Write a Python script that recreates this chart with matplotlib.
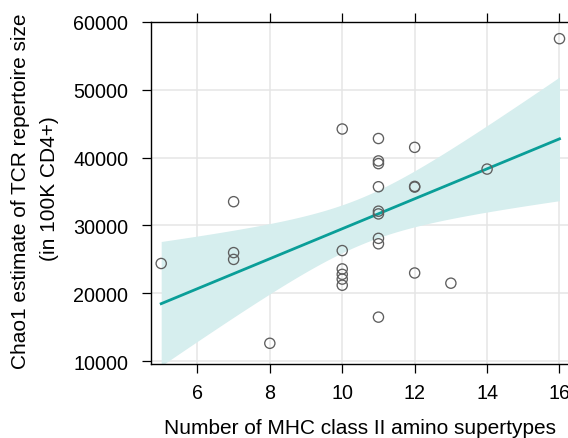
import numpy as np
import matplotlib
matplotlib.use("Agg")
import matplotlib.pyplot as plt

plt.rcParams['font.family'] = ['Liberation Sans', 'DejaVu Sans']

mhc_supertypes = [5, 7, 7, 7, 8,
                  10, 10, 10, 10, 10, 10,
                  11, 11, 11, 11, 11, 11, 11, 11, 11,
                  12, 12, 12, 12, 13, 14, 16]
chao1 = [24400, 33500, 26000, 25000, 12650,
         44200, 26300, 23600, 22800, 22100, 21200,
         42800, 39500, 39100, 35700, 32100, 31700, 28100, 27300, 16500,
         41500, 35750, 35650, 23000, 21500, 38300, 57500]
x_ticks = [6, 8, 10, 12, 14, 16]
y_ticks = [10000, 20000, 30000, 40000, 50000, 60000]

x = np.array(mhc_supertypes, float)
y = np.array(chao1, float)
n = len(x)
b1, b0 = np.polyfit(x, y, 1)
xs = np.linspace(x.min(), x.max(), 200)
yhat = b0 + b1 * xs
resid = y - (b0 + b1 * x)
s = np.sqrt(np.sum(resid ** 2) / (n - 2))
sxx = np.sum((x - x.mean()) ** 2)
t = 2.0595  # t(0.975, 25)
se = s * np.sqrt(1.0 / n + (xs - x.mean()) ** 2 / sxx)

W, H = 568, 439
fig = plt.figure(figsize=(W / 100, H / 100), dpi=100)
ax = fig.add_axes([150.7 / W, 1 - 365 / H, (570 - 150.7) / W, (365 - 22.7) / H])

teal = '#0a9e98'
ax.fill_between(xs, yhat - t * se, yhat + t * se, color='#d6eeee', lw=0, zorder=1)
ax.plot(xs, yhat, color=teal, lw=2.0, zorder=3)
ax.scatter(x, y, s=54, facecolors='none', edgecolors='#5e5e5e', linewidths=0.95, zorder=4)

ax.set_xlim(4.71, 16.29)
ax.set_ylim(9600, 60000)
ax.set_xticks(x_ticks)
ax.set_yticks(y_ticks)
ax.grid(True, color='#e5e5e5', lw=1.1, zorder=0)
ax.set_axisbelow(True)

for sp in ['left', 'bottom', 'top']:
    ax.spines[sp].set_linewidth(1.0)
    ax.spines[sp].set_color('black')
ax.spines['right'].set_visible(False)
ax.tick_params(axis='both', direction='out', length=6.5, width=0.9, labelsize=14.2, colors='black')
ax.tick_params(axis='y', pad=9.6)
ax.tick_params(axis='x', pad=7.0, top=True, labeltop=False)

fig.text(360 / W, 1 - 434 / H, 'Number of MHC class II amino supertypes',
         fontsize=15, ha='center', va='baseline')
fig.text(20.8 / W, 1 - 191 / H, 'Chao1 estimate of TCR repertoire size',
         fontsize=15, rotation=90, ha='center', va='center')
fig.text(49.8 / W, 1 - 189 / H, '(in 100K CD4+)',
         fontsize=15, rotation=90, ha='center', va='center')

fig.savefig('out.png', dpi=100)
